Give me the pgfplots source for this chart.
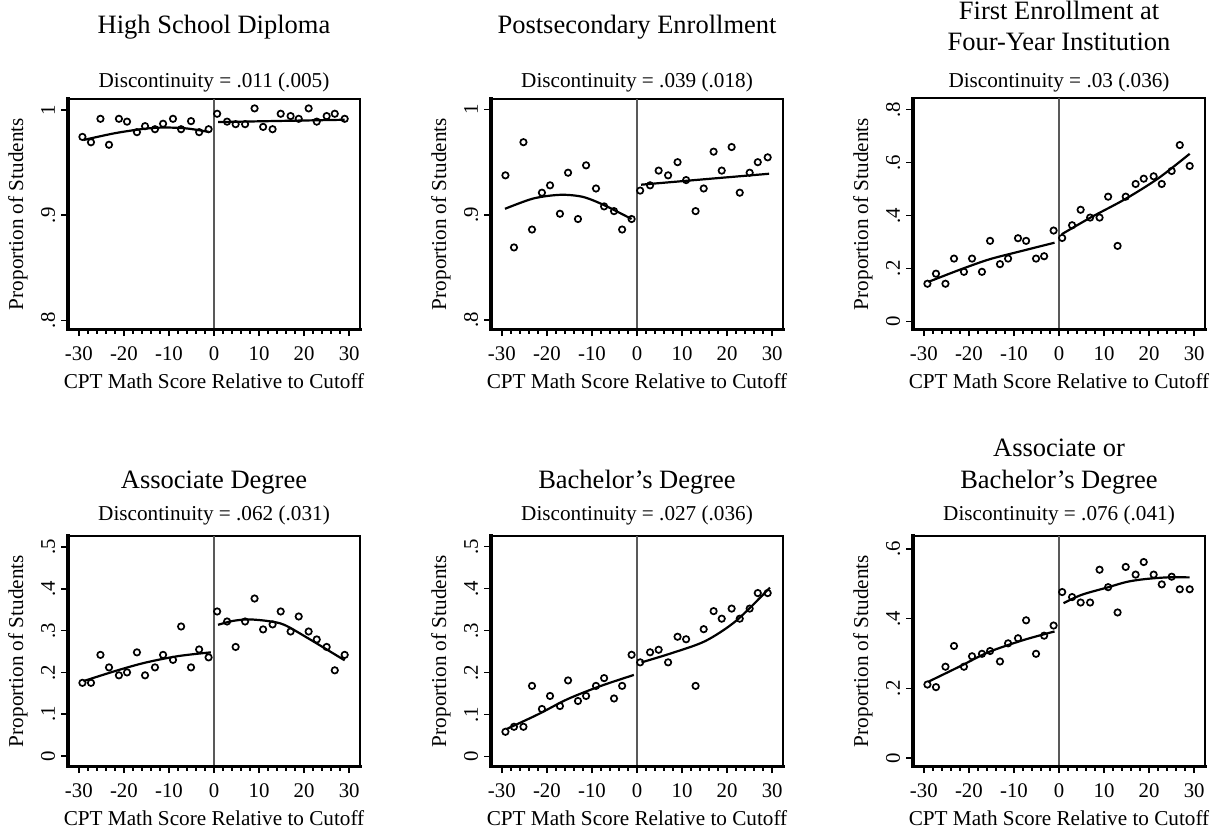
\documentclass[border=0pt]{standalone}
\usepackage{fontspec}
\setmainfont{Liberation Serif}
\usepackage{pgfplots}
\pgfplotsset{compat=1.18}
\pgfplotsset{
  rd/.style={
    width=146pt, height=115.5pt, scale only axis, clip=false,
    xmin=-32.4, xmax=32.4,
    xtick={-30,-20,-10,0,10,20,30}, xticklabels={-30,-20,-10,0,10,20,30},
    minor x tick num=4,
    tick align=outside, xtick pos=left, ytick pos=left,
    major tick length=3.3pt, minor tick length=2.2pt,
    every tick/.style={black, line width=0.75pt},
    axis line style={line width=1pt},
    ticklabel style={font=\fontsize{10.4}{12}\selectfont},
    xticklabel style={anchor=base}, xticklabel shift=12.3pt,
    yticklabel style={rotate=90, anchor=base}, yticklabel shift=3.3pt,
  },
  pts/.style={only marks, mark=o, mark size=1.6pt, mark options={line width=0.85pt, black}},
  fit/.style={black, line width=1.1pt, smooth, no markers},
  cut/.style={black!65, line width=0.8pt, no markers},
}
\newcommand{\thickax}{\draw[line width=1.6pt, line cap=rect] (rel axis cs:0,1) -- (rel axis cs:0,0) -- (rel axis cs:1,0);}
\newcommand{\TF}{\fontsize{13.25}{15.5}\selectfont}
\newcommand{\LF}{\fontsize{10.6}{12.5}\selectfont}
\begin{document}
\begin{tikzpicture}
\useasboundingbox (0,0) rectangle (610pt,-416pt);
% ---------- Panel 1
\begin{axis}[rd, at={(34pt,-164.75pt)}, anchor=south west,
  ymin=0.7913, ymax=1.011, ytick={0.8,0.9,1}, yticklabels={.8,.9,1}]
\addplot[cut] coordinates {(0,0.7913) (0,1.011)};
\addplot[fit] coordinates {(-29,0.9715) (-22,0.978) (-15.5,0.9822) (-11,0.9834) (-6,0.9825) (-1.2,0.9793)};
\addplot[fit] coordinates {(0.9,0.9886) (15,0.9897) (29,0.9908)};
\addplot[pts] coordinates {(-29.2,.9745) (-27.3,.9694) (-25.2,.9917) (-23.3,.967) (-21.1,.9917) (-19.3,.989) (-17.1,.979) (-15.3,.9847) (-13.1,.9818) (-11.3,.987) (-9.1,.9917) (-7.3,.9818) (-5.1,.9895) (-3.3,.979) (-1.2,.9818)};
\addplot[pts] coordinates {(0.7,.9965) (2.9,.989) (4.8,.9866) (6.9,.9866) (9.0,1.0016) (10.9,.984) (13.0,.9818) (14.8,.9965) (17.0,.9943) (18.8,.9917) (21.0,1.0016) (22.8,.989) (25.0,.9943) (26.8,.9965) (29.0,.9917)};
\thickax
\end{axis}
% ---------- Panel 2
\begin{axis}[rd, at={(245.5pt,-164.75pt)}, anchor=south west,
  ymin=0.791, ymax=1.0105, ytick={0.8,0.9,1}, yticklabels={.8,.9,1}]
\addplot[cut] coordinates {(0,0.791) (0,1.0105)};
\addplot[fit] coordinates {(-29.3,0.9057) (-23,0.9155) (-17,0.919) (-12,0.917) (-7.2,0.909) (-1.2,0.896)};
\addplot[fit] coordinates {(0.9,0.9286) (15,0.9338) (29.3,0.939)};
\addplot[pts] coordinates {(-29.2,.9375) (-27.3,.869) (-25.2,.969) (-23.3,.886) (-21.1,.921) (-19.3,.928) (-17.1,.901) (-15.3,.940) (-13.1,.896) (-11.3,.947) (-9.1,.925) (-7.3,.908) (-5.1,.9035) (-3.3,.886) (-1.2,.896)};
\addplot[pts] coordinates {(0.7,.923) (2.9,.928) (4.8,.942) (6.9,.9375) (9.0,.950) (10.9,.933) (13.0,.9035) (14.8,.925) (17.0,.960) (18.8,.942) (21.0,.9644) (22.8,.921) (25.0,.940) (26.8,.950) (29.0,.9546)};
\thickax
\end{axis}
% ---------- Panel 3
\begin{axis}[rd, at={(456.5pt,-164.75pt)}, anchor=south west,
  ymin=-0.031, ymax=0.842, ytick={0,0.2,0.4,0.6,0.8}, yticklabels={0,.2,.4,.6,.8}]
\addplot[cut] coordinates {(0,-0.031) (0,0.842)};
\addplot[fit] coordinates {(-29,0.149) (-22,0.195) (-15.5,0.234) (-8,0.267) (-1,0.297)};
\addplot[fit] coordinates {(0.6,0.329) (7,0.392) (14.7,0.462) (22,0.54) (29,0.633)};
\addplot[pts] coordinates {(-29.2,.142) (-27.3,.18) (-25.2,.142) (-23.3,.237) (-21.1,.187) (-19.3,.237) (-17.1,.187) (-15.3,.304) (-13.1,.216) (-11.3,.237) (-9.1,.314) (-7.3,.304) (-5.1,.237) (-3.3,.246) (-1.2,.343)};
\addplot[pts] coordinates {(0.7,.315) (2.9,.363) (4.8,.4215) (6.9,.392) (9.0,.392) (10.9,.471) (13.0,.285) (14.8,.471) (17.0,.519) (18.8,.539) (21.0,.548) (22.8,.519) (25.0,.568) (26.8,.666) (29.0,.587)};
\thickax
\end{axis}
% ---------- Panel 4
\begin{axis}[rd, at={(34pt,-383.25pt)}, anchor=south west,
  ymin=-0.0255, ymax=0.528, ytick={0,0.1,0.2,0.3,0.4,0.5}, yticklabels={0,.1,.2,.3,.4,.5}]
\addplot[cut] coordinates {(0,-0.0255) (0,0.528)};
\addplot[fit] coordinates {(-29,0.179) (-22,0.203) (-15.4,0.223) (-8,0.239) (-0.7,0.248)};
\addplot[fit] coordinates {(0.9,0.314) (4,0.323) (7.6,0.327) (12,0.323) (15.6,0.314) (21,0.281) (25,0.255) (29,0.229)};
\addplot[pts] coordinates {(-29.2,.175) (-27.3,.175) (-25.2,.242) (-23.3,.212) (-21.1,.193) (-19.3,.2) (-17.1,.248) (-15.3,.193) (-13.1,.212) (-11.3,.242) (-9.1,.230) (-7.3,.31) (-5.1,.212) (-3.3,.255) (-1.2,.236)};
\addplot[pts] coordinates {(0.7,.346) (2.9,.322) (4.8,.261) (6.9,.322) (9.0,.377) (10.9,.303) (13.0,.315) (14.8,.346) (17.0,.298) (18.8,.334) (21.0,.298) (22.8,.279) (25.0,.261) (26.8,.205) (29.0,.242)};
\thickax
\end{axis}
% ---------- Panel 5
\begin{axis}[rd, at={(245.5pt,-383.25pt)}, anchor=south west,
  ymin=-0.024, ymax=0.526, ytick={0,0.1,0.2,0.3,0.4,0.5}, yticklabels={0,.1,.2,.3,.4,.5}]
\addplot[cut] coordinates {(0,-0.024) (0,0.526)};
\addplot[fit] coordinates {(-29,0.065) (-22,0.100) (-15.4,0.1365) (-8,0.168) (-0.7,0.194)};
\addplot[fit] coordinates {(1,0.224) (8,0.247) (15.2,0.275) (22,0.323) (29.5,0.402)};
\addplot[pts] coordinates {(-29.2,.0587) (-27.3,.0706) (-25.2,.0706) (-23.3,.168) (-21.1,.113) (-19.3,.144) (-17.1,.12) (-15.3,.181) (-13.1,.132) (-11.3,.144) (-9.1,.168) (-7.3,.1865) (-5.1,.138) (-3.3,.168) (-1.2,.242)};
\addplot[pts] coordinates {(0.7,.224) (2.9,.248) (4.8,.254) (6.9,.224) (9.0,.285) (10.9,.279) (13.0,.168) (14.8,.303) (17.0,.346) (18.8,.328) (21.0,.352) (22.8,.328) (25.0,.352) (26.8,.389) (29.0,.389)};
\thickax
\end{axis}
% ---------- Panel 6
\begin{axis}[rd, at={(456.5pt,-383.25pt)}, anchor=south west,
  ymin=-0.024, ymax=0.638, ytick={0,0.2,0.4,0.6}, yticklabels={0,.2,.4,.6}]
\addplot[cut] coordinates {(0,-0.024) (0,0.638)};
\addplot[fit] coordinates {(-29,0.219) (-22,0.263) (-15.6,0.304) (-8,0.338) (-1,0.363)};
\addplot[fit] coordinates {(1,0.444) (5,0.468) (10.7,0.489) (15,0.505) (19,0.513) (24,0.518) (29,0.518)};
\addplot[pts] coordinates {(-29.2,.211) (-27.3,.2035) (-25.2,.262) (-23.3,.3215) (-21.1,.262) (-19.3,.292) (-17.1,.299) (-15.3,.307) (-13.1,.277) (-11.3,.329) (-9.1,.3436) (-7.3,.395) (-5.1,.299) (-3.3,.351) (-1.2,.38)};
\addplot[pts] coordinates {(0.7,.476) (2.9,.4616) (4.8,.446) (6.9,.446) (9.0,.540) (10.9,.490) (13.0,.4175) (14.8,.548) (17.0,.526) (18.8,.562) (21.0,.526) (22.8,.498) (25.0,.520) (26.8,.484) (29.0,.484)};
\thickax
\end{axis}
% ---------- Titles
\node[anchor=base, font=\TF] at (107pt,-16.5pt) {High School Diploma};
\node[anchor=base, font=\TF] at (318.5pt,-16.5pt) {Postsecondary Enrollment};
\node[anchor=base, font=\TF] at (529.5pt,-9.75pt) {First Enrollment at};
\node[anchor=base, font=\TF] at (529.5pt,-25.25pt) {Four-Year Institution};
\node[anchor=base, font=\LF] at (107pt,-43.5pt) {Discontinuity = .011 (.005)};
\node[anchor=base, font=\LF] at (318.5pt,-43.5pt) {Discontinuity = .039 (.018)};
\node[anchor=base, font=\LF] at (529.5pt,-43.5pt) {Discontinuity = .03 (.036)};
\node[anchor=base, font=\TF] at (107pt,-244pt) {Associate Degree};
\node[anchor=base, font=\TF] at (318.5pt,-244pt) {Bachelor's Degree};
\node[anchor=base, font=\TF] at (529.5pt,-228pt) {Associate or};
\node[anchor=base, font=\TF] at (529.5pt,-244pt) {Bachelor's Degree};
\node[anchor=base, font=\LF] at (107pt,-260pt) {Discontinuity = .062 (.031)};
\node[anchor=base, font=\LF] at (318.5pt,-260pt) {Discontinuity = .027 (.036)};
\node[anchor=base, font=\LF] at (529.5pt,-260pt) {Discontinuity = .076 (.041)};
% ---------- Axis titles
\foreach \cx/\lx in {107/34, 318.5/245.5, 529.5/456.5}{
  \node[anchor=base, font=\LF] at (\cx pt,-194pt) {CPT Math Score Relative to Cutoff};
  \node[anchor=base, font=\LF] at (\cx pt,-412.5pt) {CPT Math Score Relative to Cutoff};
  \node[rotate=90, font=\LF] at (\lx pt-25pt,-107pt) {Proportion of Students};
  \node[rotate=90, font=\LF] at (\lx pt-25pt,-325.5pt) {Proportion of Students};
}
\end{tikzpicture}
\end{document}
